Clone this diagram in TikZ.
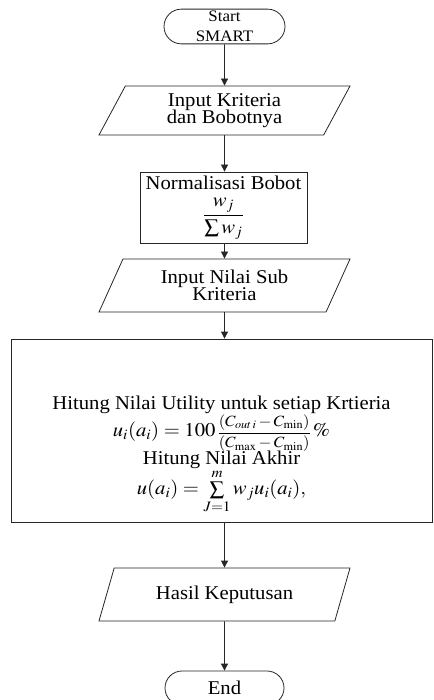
\documentclass[tikz,border=0pt]{standalone}
\usepackage{amsmath}
\usepackage{mathptmx}
\usepackage{fontspec}
\setmainfont{Liberation Serif}[FakeStretch=1.06]
\usepackage{graphicx}
\usetikzlibrary{shapes.geometric,shapes.misc,arrows.meta}
\newcommand{\sxm}[1]{\scalebox{1.06}[1]{$#1$}}
\newcommand{\tightls}{\lineskiplimit=-100pt\relax}
\newcommand{\smallfrac}[2]{\scalebox{0.848}[0.8]{$\displaystyle\frac{#1}{#2}$}}
\tikzset{
  base/.style={draw=black!85, line width=0.8pt, align=center, inner sep=2pt,
    font=\fontsize{19.5}{16.5}\selectfont\tightls},
  term/.style={base, rounded rectangle, minimum width=125pt, minimum height=34pt},
  io/.style={base, trapezium, trapezium left angle=55, trapezium right angle=125,
    trapezium stretches body, minimum width=251pt},
  proc/.style={base, rectangle},
  txt/.style={align=center, inner sep=0pt, font=\fontsize{19.5}{25}\selectfont\tightls},
  flow/.style={draw=black!85, line width=0.8pt, -{Triangle[length=7pt,width=7pt]}}
}
\begin{document}
\begin{tikzpicture}[x=1pt,y=-1pt]
\useasboundingbox (0,0) rectangle (433,700);
\fill[white] (0,0) rectangle (433,700);
\node[term, font=\fontsize{16}{20}\selectfont\tightls] (start) at (224.5,26.5) {Start\\SMART};
\node[io, minimum height=49pt] (in1) at (224.5,110.5) {Input Kriteria\\dan Bobotnya};
\node[proc, minimum width=167pt, minimum height=71pt] (norm) at (223.5,207.5)
  {Normalisasi Bobot\\[14pt]\sxm{\dfrac{w_j}{\sum w_j}}};
\node[io, minimum height=53pt] (in2) at (224.5,285.5) {Input Nilai Sub\\Kriteria};
\node[proc, minimum width=421pt, minimum height=183pt] (calc) at (221.5,430.5) {};
\node[txt] (calctext) at (221.5,455)
  {Hitung Nilai Utility untuk setiap Krtieria\\[2pt]
   \sxm{u_i(a_i)=100\,}\smallfrac{(C_{out\,i}-C_{\min})}{(C_{\max}-C_{\min})}\sxm{\,\%}\\[3pt]
   Hitung Nilai Akhir\\[5pt]
   \sxm{u(a_i)=\sum\limits_{J=1}^{m} w_j u_i(a_i),}};
\node[io, minimum height=53pt] (out) at (224.5,594.5) {Hasil Keputusan};
\node[term, minimum width=123pt] (end) at (224.5,688) {End};
\draw[flow] (start.south) -- (in1.north);
\draw[flow] (in1.south) -- (in1.south |- norm.north);
\draw[flow] (norm.south -| in2.north) -- (in2.north);
\draw[flow] (in2.south) -- (in2.south |- calc.north);
\draw[flow] (out.north |- calc.south) -- (out.north);
\draw[flow] (out.south) -- (end.north);
\end{tikzpicture}
\end{document}
